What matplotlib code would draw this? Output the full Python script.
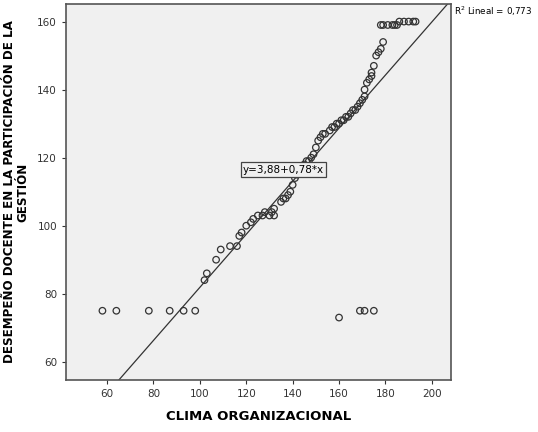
import matplotlib
matplotlib.use('Agg')
from matplotlib import pyplot as plt
import numpy as np

clima = [102, 103, 107, 109, 113, 116, 117, 118, 120, 122, 123, 125, 127, 128, 130, 131, 132, 132,
         135, 136, 137, 138, 139, 140, 141, 142, 143, 144, 145, 146, 147, 148, 149, 150, 151, 152,
         153, 154, 156, 157, 158, 159, 160, 161, 162, 163, 164, 165, 166, 167, 168, 169, 170, 171,
         171, 172, 173, 174, 174, 175, 176, 177, 178, 179, 178, 179, 181, 183, 184, 185, 186, 188,
         190, 192, 193,
         58, 64, 78, 87, 93, 98, 160, 169, 171, 175]
desempeno = [84, 86, 90, 93, 94, 94, 97, 98, 100, 101, 102, 103, 103, 104, 103, 104, 103, 105,
             107, 108, 108, 109, 110, 112, 114, 115, 116, 117, 118, 119, 119, 120, 121, 123, 125, 126,
             127, 127, 128, 129, 129, 130, 130, 131, 131, 132, 132, 133, 134, 134, 135, 136, 137, 138,
             140, 142, 143, 144, 145, 147, 150, 151, 152, 154, 159, 159, 159, 159, 159, 159, 160, 160,
             160, 160, 160,
             75, 75, 75, 75, 75, 75, 73, 75, 75, 75]
intercept, slope = 3.88, 0.78

fig = plt.figure(figsize=(5.38, 4.32), dpi=100)
ax = fig.add_axes([0.1227, 0.12, 0.7153, 0.871])
ax.set_facecolor('#f0f0f0')
ax.scatter(clima, desempeno, s=22, facecolors='none', edgecolors='#333333', linewidths=0.9, zorder=3)

xs = np.array([40, 215])
ax.plot(xs, intercept + slope * xs, color='#333333', lw=0.9, zorder=2)
ax.set_xlim(42.3, 208.2)
ax.set_ylim(54.6, 165.2)
ax.set_xticks([60, 80, 100, 120, 140, 160, 180, 200])
ax.set_yticks([60, 80, 100, 120, 140, 160])
ax.tick_params(labelsize=7.5, colors='#333333', length=3)
for s in ax.spines.values():
    s.set_color('#555555')
    s.set_linewidth(1.2)

ax.text(136, 116.5, 'y=3,88+0,78*x', fontsize=7.5, ha='center', va='center',
        bbox=dict(boxstyle='square,pad=0.2', fc='#f0f0f0', ec='#444444', lw=0.9), zorder=4)
fig.text(0.843, 0.975, 'R$^2$ Lineal = 0,773', fontsize=6.3, va='center')

ax.set_xlabel('CLIMA ORGANIZACIONAL', fontsize=9.5, fontweight='bold', labelpad=8)
ax.set_ylabel('DESEMPEÑO DOCENTE EN LA PARTICIPACIÓN DE LA\nGESTIÓN', fontsize=8.6,
              fontweight='bold', labelpad=6, linespacing=0.95)

fig.savefig('out.png', dpi=100)
